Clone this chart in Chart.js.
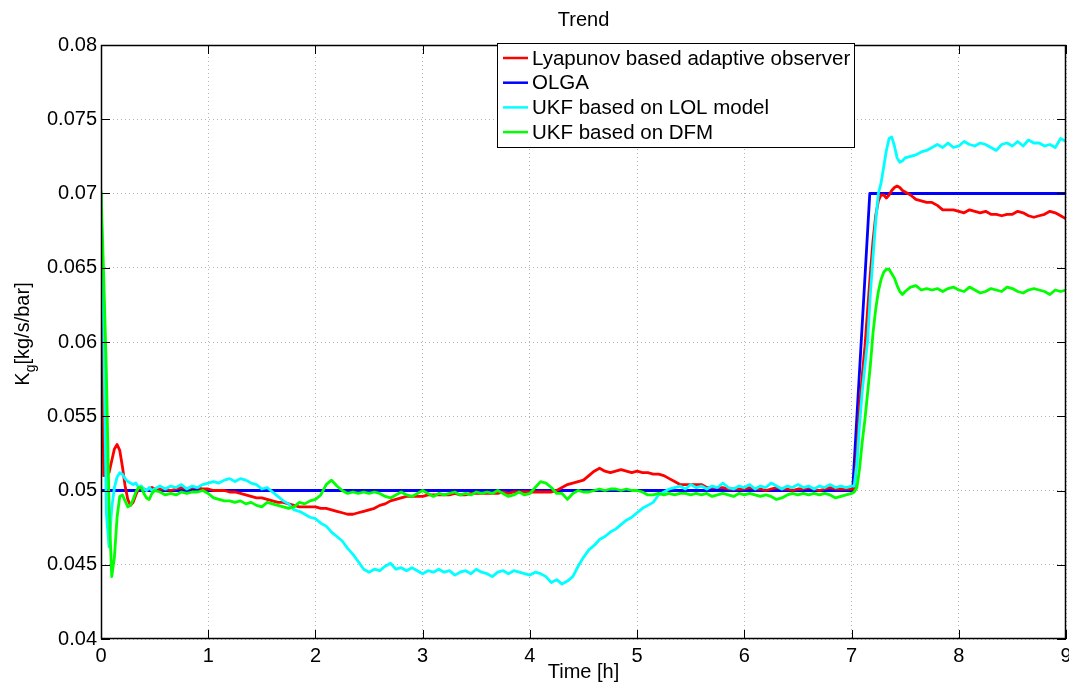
<!DOCTYPE html>
<html>
<head>
<meta charset="utf-8">
<title>Trend</title>
<script src="https://cdn.jsdelivr.net/npm/chart.js@4"></script>
<style>
  html, body { margin: 0; padding: 0; background: #fff; }
  canvas { display: block; }
</style>
</head>
<body>
<canvas id="trend" width="1069" height="683"></canvas>
<script>
// time axis [h] (denser around the two transients)
const timeH = [
  0, 0.025, 0.05, 0.075, 0.1, 0.125, 0.15, 0.175, 0.2, 0.225, 0.25, 0.275, 0.3, 0.325, 0.35, 0.375, 0.4, 0.425, 0.45, 0.475, 0.5,
  0.55, 0.6, 0.65, 0.7, 0.75, 0.8, 0.85, 0.9, 0.95, 1.0,
  1.05, 1.1, 1.15, 1.2, 1.25, 1.3, 1.35, 1.4, 1.45, 1.5, 1.55, 1.6, 1.65, 1.7, 1.75, 1.8, 1.85, 1.9, 1.95, 2.0,
  2.05, 2.1, 2.15, 2.2, 2.25, 2.3, 2.35, 2.4, 2.45, 2.5, 2.55, 2.6, 2.65, 2.7, 2.75, 2.8, 2.85, 2.9, 2.95, 3.0,
  3.05, 3.1, 3.15, 3.2, 3.25, 3.3, 3.35, 3.4, 3.45, 3.5, 3.55, 3.6, 3.65, 3.7, 3.75, 3.8, 3.85, 3.9, 3.95, 4.0,
  4.05, 4.1, 4.15, 4.2, 4.25, 4.3, 4.35, 4.4, 4.45, 4.5, 4.55, 4.6, 4.65, 4.7, 4.75, 4.8, 4.85, 4.9, 4.95, 5.0,
  5.05, 5.1, 5.15, 5.2, 5.25, 5.3, 5.35, 5.4, 5.45, 5.5, 5.55, 5.6, 5.65, 5.7, 5.75, 5.8, 5.85, 5.9, 5.95, 6.0,
  6.05, 6.1, 6.15, 6.2, 6.25, 6.3, 6.35, 6.4, 6.45, 6.5, 6.55, 6.6, 6.65, 6.7, 6.75, 6.8, 6.85, 6.9, 6.95, 7.0,
  7.025, 7.05, 7.075, 7.1, 7.125, 7.15, 7.175, 7.2, 7.225, 7.25, 7.275, 7.3, 7.325, 7.35, 7.375, 7.4, 7.425, 7.45, 7.475, 7.5,
  7.55, 7.6, 7.65, 7.7, 7.75, 7.8, 7.85, 7.9, 7.95, 8.0,
  8.05, 8.1, 8.15, 8.2, 8.25, 8.3, 8.35, 8.4, 8.45, 8.5, 8.55, 8.6, 8.65, 8.7, 8.75, 8.8, 8.85, 8.9, 8.95, 9.0
];

// Lyapunov based adaptive observer
const lyapunovK = [
  0.07, 0.051, 0.051, 0.0512, 0.052, 0.0528, 0.0531, 0.0527, 0.0516, 0.0503, 0.0494, 0.049, 0.0492, 0.0497, 0.0501, 0.0502, 0.0501, 0.05, 0.0501, 0.0502, 0.0501,
  0.0501, 0.0501, 0.05, 0.0501, 0.0502, 0.0501, 0.0502, 0.0502, 0.0501, 0.0501,
  0.05, 0.05, 0.05, 0.0499, 0.0499, 0.0498, 0.0497, 0.0496, 0.0495, 0.0495, 0.0494, 0.0493, 0.0492, 0.0492, 0.0491, 0.049, 0.0489, 0.0489, 0.0489, 0.0489,
  0.0488, 0.0488, 0.0487, 0.0486, 0.0485, 0.0484, 0.0484, 0.0485, 0.0486, 0.0487, 0.0488, 0.049, 0.0491, 0.0493, 0.0494, 0.0495, 0.0496, 0.0496, 0.0496, 0.0496,
  0.0497, 0.0497, 0.0497, 0.0497, 0.0497, 0.0498, 0.0497, 0.0497, 0.0498, 0.0498, 0.0498, 0.0498, 0.0498, 0.0498, 0.0499, 0.0498, 0.0499, 0.0499, 0.0499, 0.0499,
  0.0499, 0.0499, 0.0499, 0.0499, 0.05, 0.0502, 0.0504, 0.0505, 0.0506, 0.0507, 0.051, 0.0513, 0.0515, 0.0513, 0.0512, 0.0513, 0.0514, 0.0513, 0.0512, 0.0513,
  0.0512, 0.0512, 0.0511, 0.0511, 0.051, 0.0508, 0.0506, 0.0504, 0.0504, 0.0504, 0.0504, 0.0504, 0.0502, 0.0502, 0.0502, 0.0502, 0.0501, 0.0501, 0.0501, 0.0501,
  0.0502, 0.0501, 0.0501, 0.05, 0.0501, 0.0502, 0.0501, 0.0501, 0.05, 0.0501, 0.0501, 0.0502, 0.0501, 0.05, 0.0501, 0.0502, 0.0501, 0.0501, 0.0501, 0.0501,
  0.0501, 0.0525, 0.0557, 0.0578, 0.0597, 0.0622, 0.0646, 0.0668, 0.0685, 0.0695, 0.0699, 0.0699, 0.0697, 0.0699, 0.0702, 0.0704, 0.0705, 0.0704, 0.0702, 0.0701,
  0.0699, 0.0696, 0.0695, 0.0694, 0.0694, 0.0692, 0.0689, 0.0689, 0.0689, 0.0688,
  0.0687, 0.0689, 0.0688, 0.0687, 0.0688, 0.0686, 0.0686, 0.0685, 0.0686, 0.0686, 0.0688, 0.0687, 0.0685, 0.0684, 0.0685, 0.0686, 0.0688, 0.0687, 0.0685, 0.0683
];

// UKF based on LOL model
const ukfLolK = [
  0.07, 0.061, 0.0485, 0.0462, 0.0488, 0.0502, 0.0509, 0.0512, 0.0511, 0.0508, 0.0506, 0.0505, 0.0504, 0.0505, 0.0502, 0.0503, 0.0501, 0.05, 0.0502, 0.05, 0.0501,
  0.0503, 0.0501, 0.0503, 0.0502, 0.0504, 0.0501, 0.0503, 0.0502, 0.0504, 0.0505,
  0.0506, 0.0505, 0.0507, 0.0508, 0.0506, 0.0508, 0.0507, 0.0505, 0.0504, 0.0501, 0.0502, 0.0499, 0.0496, 0.0493, 0.0491, 0.0487, 0.0486, 0.0484, 0.0482, 0.0481,
  0.0478, 0.0476, 0.0472, 0.0469, 0.0466, 0.0461, 0.0457, 0.0452, 0.0447, 0.0445, 0.0447, 0.0446, 0.0449, 0.0451, 0.0447, 0.0448, 0.0446, 0.0448, 0.0446, 0.0444,
  0.0446, 0.0445, 0.0447, 0.0445, 0.0446, 0.0443, 0.0445, 0.0446, 0.0444, 0.0447, 0.0445, 0.0444, 0.0442, 0.0445, 0.0446, 0.0444, 0.0446, 0.0445, 0.0444, 0.0443,
  0.0445, 0.0444, 0.0442, 0.0438, 0.044, 0.0437, 0.0439, 0.0442, 0.0449, 0.0455, 0.046, 0.0463, 0.0467, 0.0469, 0.0472, 0.0474, 0.0477, 0.048, 0.0482, 0.0485,
  0.0488, 0.049, 0.0492, 0.0497, 0.0499, 0.0501, 0.0502, 0.0503, 0.0501, 0.0504, 0.0502, 0.0503, 0.0501, 0.0503, 0.0502, 0.0505, 0.0502, 0.0501, 0.0503, 0.0502,
  0.0504, 0.0501, 0.0503, 0.0502, 0.0505, 0.0503, 0.0501, 0.0503, 0.0502, 0.0504, 0.0502, 0.0503, 0.0501, 0.0503, 0.0502, 0.0504, 0.0502, 0.0503, 0.0502, 0.0503,
  0.0503, 0.0518, 0.0545, 0.0567, 0.0584, 0.0601, 0.0632, 0.0657, 0.0681, 0.07, 0.0707, 0.0718, 0.0729, 0.0737, 0.0738, 0.0732, 0.0724, 0.0721, 0.0722, 0.0724,
  0.0725, 0.0726, 0.0728, 0.0729, 0.0731, 0.0733, 0.0731, 0.0734, 0.0731, 0.0732,
  0.0735, 0.0733, 0.0732, 0.0734, 0.0733, 0.0731, 0.0729, 0.0733, 0.0734, 0.0732, 0.0735, 0.0732, 0.0736, 0.0734, 0.0734, 0.0732, 0.0733, 0.0731, 0.0737, 0.0735
];

// UKF based on DFM
const ukfDfmK = [
  0.0702, 0.0645, 0.058, 0.049, 0.0442, 0.0455, 0.0482, 0.0496, 0.0497, 0.0493, 0.0489, 0.049, 0.0494, 0.0499, 0.0502, 0.0502, 0.0498, 0.0495, 0.0494, 0.0498, 0.05,
  0.0499, 0.0497, 0.0498, 0.0497, 0.0499, 0.0498, 0.0499, 0.0499, 0.05, 0.0498,
  0.0495, 0.0494, 0.0493, 0.0493, 0.0492, 0.0493, 0.0491, 0.0492, 0.049, 0.0489, 0.0492, 0.0491, 0.049, 0.0489, 0.0488, 0.0489, 0.0492, 0.0491, 0.0493, 0.0494,
  0.0497, 0.0504, 0.0507, 0.0503, 0.05, 0.0498, 0.0499, 0.0498, 0.0499, 0.0498, 0.0499, 0.0498, 0.0496, 0.0495, 0.0497, 0.0499, 0.0497, 0.0496, 0.0498, 0.05,
  0.0498, 0.0496, 0.0498, 0.0497, 0.0498, 0.0499, 0.0497, 0.0498, 0.0497, 0.0499, 0.0498, 0.0499, 0.0498, 0.05, 0.0498, 0.0496, 0.0497, 0.0499, 0.0497, 0.0498,
  0.0502, 0.0506, 0.0505, 0.0502, 0.0498, 0.0498, 0.0494, 0.0498, 0.05, 0.0499, 0.0499, 0.05, 0.0501, 0.05, 0.0501, 0.0501, 0.05, 0.0501, 0.05, 0.05,
  0.0499, 0.0497, 0.0497, 0.0498, 0.0497, 0.0498, 0.0497, 0.0498, 0.0498, 0.0497, 0.0498, 0.0497, 0.0498, 0.0496, 0.0497, 0.0498, 0.0497, 0.0496, 0.0498, 0.0497,
  0.0498, 0.0497, 0.0496, 0.0497, 0.0496, 0.0494, 0.0495, 0.0497, 0.0498, 0.0497, 0.0498, 0.0497, 0.0498, 0.0497, 0.0498, 0.0497, 0.0495, 0.0496, 0.0497, 0.0498,
  0.0499, 0.0502, 0.0515, 0.0533, 0.0548, 0.0566, 0.0584, 0.0606, 0.0622, 0.0634, 0.0642, 0.0647, 0.0649, 0.0649, 0.0646, 0.0643, 0.0638, 0.0634, 0.0632, 0.0634,
  0.0637, 0.0638, 0.0635, 0.0636, 0.0635, 0.0636, 0.0634, 0.0636, 0.0637, 0.0635,
  0.0634, 0.0637, 0.0635, 0.0633, 0.0634, 0.0636, 0.0635, 0.0634, 0.0637, 0.0636, 0.0634, 0.0633, 0.0635, 0.0636, 0.0635, 0.0634, 0.0632, 0.0635, 0.0634, 0.0635
];

// OLGA reference (step)
const olgaTime = [0, 7.01, 7.17, 9];
const olgaK = [0.05, 0.05, 0.07, 0.07];

const xTicks = [0, 1, 2, 3, 4, 5, 6, 7, 8, 9];
const yTicks = [0.04, 0.045, 0.05, 0.055, 0.06, 0.065, 0.07, 0.075, 0.08];

const toPoints = (xs, ys) => xs.map((x, i) => ({ x: x, y: ys[i] }));

const FONT = '"Liberation Sans", Arial, Helvetica, sans-serif';
Chart.defaults.font.family = FONT;
Chart.defaults.font.size = 20;
Chart.defaults.color = '#000';

// matlab-like frame, inward ticks, legend box and axis titles
const matlabLook = {
  id: 'matlabLook',
  afterDatasetsDraw(chart) {
    const ctx = chart.ctx;
    const a = chart.chartArea;
    const xs = chart.scales.x, ys = chart.scales.y;
    const tick = 9;
    ctx.save();
    ctx.strokeStyle = '#000';
    ctx.lineWidth = 1;
    ctx.beginPath();
    xTicks.forEach(v => {
      const px = Math.round(xs.getPixelForValue(v)) + 0.5;
      ctx.moveTo(px, a.bottom); ctx.lineTo(px, a.bottom - tick);
      ctx.moveTo(px, a.top); ctx.lineTo(px, a.top + tick);
    });
    yTicks.forEach(v => {
      const py = Math.round(ys.getPixelForValue(v)) + 0.5;
      ctx.moveTo(a.left, py); ctx.lineTo(a.left + tick, py);
      ctx.moveTo(a.right, py); ctx.lineTo(a.right - tick, py);
    });
    ctx.stroke();
    ctx.lineWidth = 1.5;
    ctx.strokeRect(Math.round(a.left) + 0.5, Math.round(a.top) + 0.5,
                   Math.round(a.right - a.left) - 1, Math.round(a.bottom - a.top) - 1);

    // legend
    const lx = a.left + 396, ly = a.top - 2, lw = 357, lh = 104;
    ctx.fillStyle = '#fff';
    ctx.fillRect(lx, ly, lw, lh);
    ctx.lineWidth = 1;
    ctx.strokeRect(lx + 0.5, ly + 0.5, lw, lh);
    ctx.font = '20.5px ' + FONT;
    ctx.textBaseline = 'middle';
    ctx.textAlign = 'left';
    chart.data.datasets.forEach((ds, i) => {
      const ry = ly + 15 + i * 24.7;
      ctx.strokeStyle = ds.borderColor;
      ctx.lineWidth = 2.5;
      ctx.beginPath();
      ctx.moveTo(lx + 6, ry); ctx.lineTo(lx + 31, ry);
      ctx.stroke();
      ctx.fillStyle = '#000';
      ctx.fillText(ds.label, lx + 35, ry + 1);
    });
    ctx.restore();
  },
  afterDraw(chart) {
    const ctx = chart.ctx;
    const a = chart.chartArea;
    const cx = (a.left + a.right) / 2;
    ctx.save();
    ctx.fillStyle = '#000';
    ctx.textAlign = 'center';
    ctx.textBaseline = 'middle';
    ctx.font = '20px ' + FONT;
    ctx.fillText('Trend', cx, 20);
    ctx.fillText('Time [h]', cx, 672);

    // y label with subscript g
    ctx.translate(22, 334);
    ctx.rotate(-Math.PI / 2);
    ctx.textAlign = 'left';
    ctx.textBaseline = 'alphabetic';
    const big = '20px ' + FONT, small = '14px ' + FONT;
    ctx.font = big;
    const wK = ctx.measureText('K').width;
    const wRest = ctx.measureText('[kg/s/bar]').width;
    ctx.font = small;
    const wg = ctx.measureText('g').width;
    let x0 = -(wK + wg + wRest) / 2;
    const base = 7;
    ctx.font = big;
    ctx.fillText('K', x0, base);
    ctx.font = small;
    ctx.fillText('g', x0 + wK, base + 6);
    ctx.font = big;
    ctx.fillText('[kg/s/bar]', x0 + wK + wg, base);
    ctx.restore();
  }
};

const gridStyle = {
  color: '#b4b4b4',
  lineWidth: 1,
  drawTicks: false
};

new Chart(document.getElementById('trend'), {
  type: 'line',
  data: {
    datasets: [
      {
        label: 'Lyapunov based adaptive observer',
        data: toPoints(timeH, lyapunovK),
        borderColor: '#ff0000',
        order: 2
      },
      {
        label: 'OLGA',
        data: toPoints(olgaTime, olgaK),
        borderColor: '#0000ff',
        order: 3
      },
      {
        label: 'UKF based on LOL model',
        data: toPoints(timeH, ukfLolK),
        borderColor: '#00ffff',
        order: 1
      },
      {
        label: 'UKF based on DFM',
        data: toPoints(timeH, ukfDfmK),
        borderColor: '#00ff00',
        order: 0
      }
    ]
  },
  options: {
    responsive: false,
    animation: false,
    devicePixelRatio: 1,
    layout: { padding: { top: 45, right: 3, left: 0, bottom: 0 } },
    elements: {
      point: { radius: 0 },
      line: { borderWidth: 2.8, tension: 0, fill: false, borderJoinStyle: 'round' }
    },
    plugins: {
      legend: { display: false },
      title: { display: false },
      tooltip: { enabled: false }
    },
    scales: {
      x: {
        type: 'linear',
        min: 0,
        max: 9,
        afterFit: s => { s.height = 44; s.paddingLeft = 0; s.paddingRight = 0; },
        afterBuildTicks: s => { s.ticks = xTicks.map(v => ({ value: v })); },
        ticks: { padding: 5, autoSkip: false, maxRotation: 0, font: { size: 20 } },
        grid: gridStyle,
        border: { display: false, dash: [1, 3] }
      },
      y: {
        min: 0.04,
        max: 0.08,
        afterFit: s => { s.width = 101; s.paddingTop = 0; s.paddingBottom = 0; },
        afterBuildTicks: s => { s.ticks = yTicks.map(v => ({ value: v })); },
        ticks: {
          padding: 4,
          autoSkip: false,
          font: { size: 20 },
          callback: v => parseFloat(Number(v).toFixed(3)).toString()
        },
        grid: gridStyle,
        border: { display: false, dash: [1, 3] }
      }
    }
  },
  plugins: [matlabLook]
});
</script>
</body>
</html>
